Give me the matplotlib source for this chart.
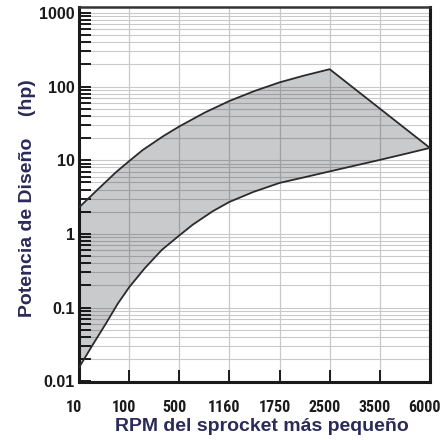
import matplotlib
matplotlib.use('Agg')
import matplotlib.pyplot as plt
from matplotlib import font_manager
from matplotlib.ticker import LogLocator, NullFormatter, FixedLocator, FixedFormatter
from matplotlib.transforms import ScaledTranslation

# x axis: evenly spaced RPM categories
RPM_LABELS = ['10', '100', '500', '1160', '1750', '2500', '3500', '6000']

# upper limit curve (position along the RPM axis, hp)
UPPER_POS = [0, 0.36, 0.74, 1.0, 1.27, 1.69, 2.0, 2.51, 3.0, 3.5, 4.0, 4.49, 5.0, 7.0]
UPPER_HP  = [2.30, 3.95, 6.94, 9.77, 13.8, 21.5, 28.8, 44.5, 63.8, 87.1, 114, 141, 172, 14.7]

# lower limit curve
LOWER_POS = [0, 0.26, 0.53, 0.77, 1.0, 1.31, 1.65, 2.0, 2.27, 2.67, 3.0, 3.48,
             4.0, 4.49, 5.0, 5.51, 6.0, 6.51, 7.0]
LOWER_HP  = [0.0155, 0.0305, 0.0603, 0.113, 0.19, 0.343, 0.607, 0.955, 1.34, 2.04,
             2.72, 3.72, 4.92, 5.86, 7.05, 8.47, 10.1, 12.2, 14.7]

Y_TICKS  = [0.01, 0.1, 1, 10, 100, 1000]
Y_LABELS = ['0.01', '0.1', '1', '10', '100', '1000']

LABEL_COL = '#2b2a58'
GRID_COL  = '#c9c9c9'


def pick_font(candidates, default):
    names = {f.name for f in font_manager.fontManager.ttflist}
    for c in candidates:
        if c in names:
            return c
    return default


NARROW = pick_font(['Liberation Sans Narrow', 'DejaVu Sans Condensed',
                    'Roboto Condensed', 'Noto Sans Condensed'], None)
SANS = ['Liberation Sans', 'DejaVu Sans']

fig = plt.figure(figsize=(4.4, 4.4), dpi=100)
ax = fig.add_axes([0.18, 0.132, 0.797, 0.852])

# shaded region between the two limits
poly_x = UPPER_POS + LOWER_POS[::-1]
poly_y = UPPER_HP + LOWER_HP[::-1]
ax.fill(poly_x, poly_y, facecolor=(0.05, 0.06, 0.09), alpha=0.22, lw=0, zorder=3)
ax.plot(UPPER_POS, UPPER_HP, color='#2b2b2b', lw=1.3, zorder=4)
ax.plot(LOWER_POS, LOWER_HP, color='#2b2b2b', lw=1.3, zorder=4)

ax.set_yscale('log')
ax.set_xlim(0, 7)
ax.set_ylim(0.0098, 1200)

ax.xaxis.set_major_locator(FixedLocator(range(len(RPM_LABELS))))
ax.xaxis.set_major_formatter(FixedFormatter(RPM_LABELS))
ax.yaxis.set_major_locator(FixedLocator(Y_TICKS))
ax.yaxis.set_major_formatter(FixedFormatter(Y_LABELS))
ax.yaxis.set_minor_locator(LogLocator(base=10, subs=range(2, 10)))
ax.yaxis.set_minor_formatter(NullFormatter())

ax.grid(True, which='both', axis='y', color=GRID_COL, lw=0.8, zorder=1)
ax.grid(True, which='major', axis='x', color=GRID_COL, lw=0.9, zorder=1)
ax.set_axisbelow(True)

ax.tick_params(axis='both', which='both', direction='in', length=8.5, width=1.4,
               color='#1a1a1a', top=False, right=False)
ax.tick_params(axis='x', pad=13)
ax.tick_params(axis='y', pad=3)

# x labels: condensed bold, sitting a little left of their ticks
shift = ScaledTranslation(-5 / 100, 0, fig.dpi_scale_trans)
for lab in ax.get_xticklabels():
    if NARROW:
        lab.set_family([NARROW, 'DejaVu Sans'])
        lab.set_fontsize(11.5)
    else:
        lab.set_family(SANS)
        lab.set_fontsize(10)
    lab.set_fontweight('bold')
    lab.set_color('#1a1a1a')
    lab.set_transform(lab.get_transform() + shift)

for lab in ax.get_yticklabels():
    lab.set_family(SANS)
    lab.set_fontweight('bold')
    lab.set_fontsize(11.5)
    lab.set_color('#1a1a1a')

for side in ['left', 'bottom', 'right']:
    ax.spines[side].set_linewidth(2.2)
    ax.spines[side].set_color('#1a1a1a')
ax.spines['top'].set_linewidth(1.8)
ax.spines['top'].set_color('#333333')

ax.set_xlabel('RPM del sprocket más pequeño', fontsize=14, fontweight='bold',
              color=LABEL_COL, family=SANS)
ax.set_ylabel('Potencia de Diseño    (hp)', fontsize=14, fontweight='bold',
              color=LABEL_COL, family=SANS)
ax.xaxis.set_label_coords(0.52, -0.095)
ax.yaxis.set_label_coords(-0.122, 0.49)

plt.savefig('out.png', dpi=100)
plt.close()
